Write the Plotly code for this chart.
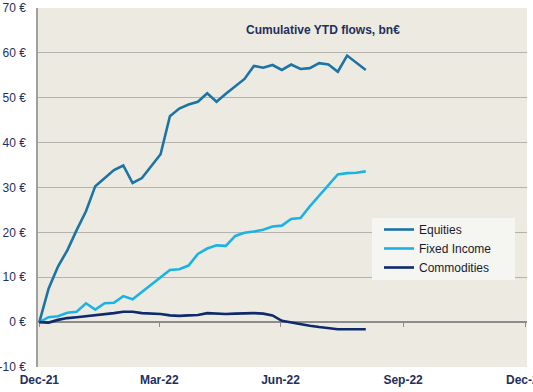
import plotly.graph_objects as go
import pandas as pd

# ---- data ----
dates = pd.date_range("2021-12-31", periods=36, freq="7D")

equities = [0, 7.5, 12.4, 16.0, 20.5, 24.7, 30.3, 32.1, 33.9, 34.9,
            31.0, 32.1, 34.7, 37.4, 45.9, 47.6, 48.5, 49.1, 51.0, 49.1,
            50.9, 52.6, 54.2, 57.1, 56.7, 57.3, 56.2, 57.4, 56.4, 56.6,
            57.7, 57.4, 55.8, 59.4, 57.9, 56.2]

fixed_income = [0, 1.1, 1.3, 2.1, 2.3, 4.2, 2.8, 4.2, 4.3, 5.8,
                5.1, 6.7, 8.3, 9.9, 11.6, 11.8, 12.6, 15.2, 16.4, 17.1,
                17.0, 19.2, 19.9, 20.2, 20.6, 21.3, 21.5, 23.0, 23.2, 25.8,
                28.2, 30.6, 32.9, 33.2, 33.3, 33.6]

commodities = [0, -0.1, 0.5, 0.9, 1.1, 1.3, 1.5, 1.8, 2.0, 2.3,
               2.3, 2.0, 1.9, 1.8, 1.5, 1.4, 1.5, 1.6, 2.0, 1.9,
               1.8, 1.9, 2.0, 2.0, 1.9, 1.5, 0.3, -0.1, -0.5, -0.8,
               -1.1, -1.4, -1.6, -1.6, -1.6, -1.6]

x_tickvals = ["2021-12-31", "2022-03-31", "2022-06-30", "2022-09-30", "2022-12-31"]
x_ticktext = ["Dec-21", "Mar-22", "Jun-22", "Sep-22", "Dec-22"]
y_tickvals = [-10, 0, 10, 20, 30, 40, 50, 60, 70]
y_ticktext = ["-10 €", "0 €", "10 €", "20 €", "30 €", "40 €", "50 €", "60 €", "70 €"]

title_text = "Cumulative YTD flows, bn€"

# ---- styling ----
W, H = 533, 392
ML, MR, MT, MB = 38, 6, 8, 25
PLOT_BG = "#EDEAE1"
NAVY = "#1F2F5E"
FONT = "Liberation Sans, Arial, sans-serif"
x_range = ["2021-12-30", "2023-01-01"]

fig = go.Figure()
series = [("Equities", equities, "#1B74A6"),
          ("Fixed Income", fixed_income, "#1BB3E6"),
          ("Commodities", commodities, "#0E2A6C")]
for name, vals, col in series:
    fig.add_trace(go.Scatter(x=dates, y=vals, name=name, mode="lines",
                             line=dict(color=col, width=2.6)))

# helper trace for the axis drawn through zero
fig.add_trace(go.Scatter(x=dates, y=[None] * len(dates), xaxis="x2",
                         showlegend=False, hoverinfo="skip"))

def px_x(p):
    return (p - ML) / (W - ML - MR)

def px_y(p):
    return (H - MB - p) / (H - MT - MB)

fig.update_layout(
    width=W, height=H,
    margin=dict(l=ML, r=MR, t=MT, b=MB, autoexpand=False),
    paper_bgcolor="white",
    plot_bgcolor=PLOT_BG,
    font=dict(family=FONT, size=12, color=NAVY),
    xaxis=dict(range=x_range, tickvals=x_tickvals, ticktext=x_ticktext,
               showgrid=False, zeroline=False, ticks="", showline=False,
               automargin=False,
               tickfont=dict(family=FONT, size=12, color=NAVY, weight="bold"),
               ticklabelstandoff=4, ticklabeloverflow="allow"),
    xaxis2=dict(range=x_range, overlaying="x", anchor="free", position=0.125,
                side="bottom", tickvals=x_tickvals, showticklabels=False,
                ticks="outside", ticklen=4, tickwidth=1, tickcolor="#8C8C8C",
                showline=True, linecolor="#8C8C8C", linewidth=2, automargin=False,
                showgrid=False, zeroline=False, layer="below traces"),
    yaxis=dict(range=[-10, 70], tickvals=y_tickvals, ticktext=y_ticktext,
               showgrid=True, gridcolor="#B4B2AC", gridwidth=1, automargin=False,
               zeroline=False, showline=True, linecolor="#A0A0A0", linewidth=1.5,
               ticks="", ticklabelstandoff=8,
               tickfont=dict(family=FONT, size=12, color=NAVY)),
    showlegend=True,
    legend=dict(x=px_x(379), y=px_y(215), xanchor="left", yanchor="top",
                bgcolor="rgba(0,0,0,0)", borderwidth=0,
                font=dict(family=FONT, size=12, color="#1A1A2A"),
                tracegroupgap=0),
    annotations=[dict(text="<b>" + title_text + "</b>", xref="paper", yref="paper",
                      x=px_x(323), y=px_y(30), xanchor="center", yanchor="middle",
                      showarrow=False, font=dict(family=FONT, size=12, color=NAVY))],
    shapes=[
        # title box hiding part of the 60 gridline
        dict(type="rect", xref="paper", yref="paper", x0=0.003, x1=px_x(375),
             y0=px_y(55), y1=px_y(9), fillcolor=PLOT_BG, line=dict(width=0),
             layer="between"),
        # legend box
        dict(type="rect", xref="paper", yref="paper", x0=px_x(372), x1=px_x(515),
             y0=px_y(280), y1=px_y(218), fillcolor="#F5F5F2", line=dict(width=0),
             layer="above"),
    ],
)

fig.write_html("out.html", config={"displayModeBar": False},
               post_script="document.body.style.margin='0';")
